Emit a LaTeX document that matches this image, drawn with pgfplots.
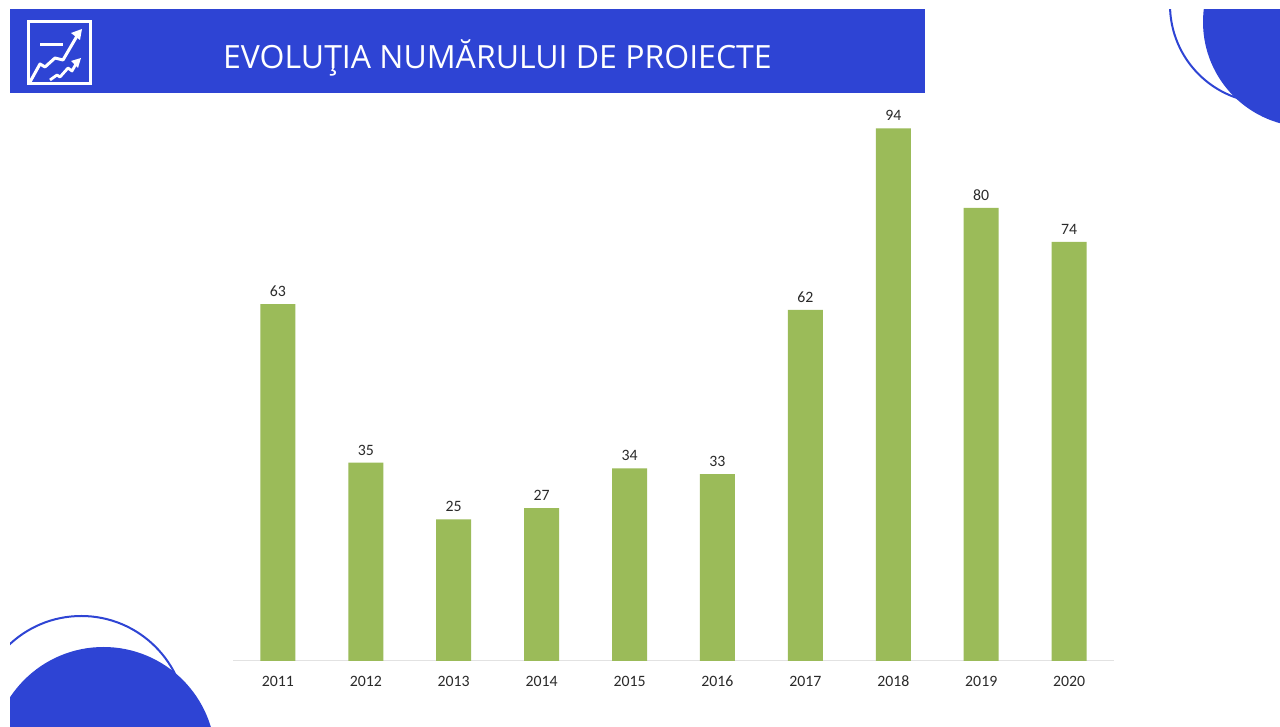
\documentclass[border=0pt]{standalone}
\usepackage{pgfplots}
\usepackage{fontspec}
\setmainfont{Carlito}
\newfontfamily\titlefont{Open Sans}
\pgfplotsset{compat=1.18}
\definecolor{bannerblue}{HTML}{2E44D4}
\definecolor{bargreen}{HTML}{9BBB59}
\definecolor{axisgray}{HTML}{E2E2E2}
\definecolor{labeltext}{HTML}{2A2A2A}
\begin{document}
\begin{tikzpicture}[x=1pt,y=1pt]
\path[use as bounding box,fill=white] (0,0) rectangle (1280,727);
\begin{scope}[shift={(0,727)},y=-1pt]
% decoration, pixel coordinates
\begin{scope}
\clip (10,9.5) rectangle (1280,727);
\draw[bannerblue,line width=2pt] (1268,5) circle (98);
\fill[bannerblue] (1308,22) circle (105);
\draw[bannerblue,line width=2pt] (81.3,720.8) circle (104.8);
\fill[bannerblue] (103.5,759) circle (112);
\end{scope}
\fill[bannerblue] (10,9) rectangle (925,93);
\node[anchor=base west,inner sep=0pt,text=white,font=\titlefont\fontsize{32}{34}\selectfont] at (223,69) {EVOLUŢIA NUMĂRULUI DE PROIECTE};
% icon
\draw[white,line width=2.6pt] (28.5,21.5) rectangle (90.5,83.5);
\draw[white,line width=2.4pt] (40,44.5) -- (63,44.5);
\draw[white,line width=3pt,line join=round] (30,82) -- (40,64) -- (45,67) -- (55,58) -- (63,60) -- (77,36);
\fill[white] (82,29) -- (71,33) -- (80,40) -- cycle;
\draw[white,line width=2.8pt,line join=round] (50,80) -- (57,75) -- (60,77) -- (68,68) -- (72,71) -- (76,64);
\fill[white] (81,58) -- (71,61) -- (78,68) -- cycle;
\end{scope}
\begin{axis}[
  at={(233pt,66pt)},anchor=south west,
  scale only axis,width=881pt,height=566.5pt,
  xmin=-0.51,xmax=9.51,ymin=0,ymax=100,
  axis y line=none,
  axis x line*=bottom,
  x axis line style={axisgray,line width=1pt,-},
  ybar,bar width=35pt,
  /pgf/number format/assume math mode=true,
  /pgf/number format/1000 sep={},
  nodes near coords,
  every node near coord/.append style={font=\fontsize{15.8}{18}\selectfont,text=labeltext,inner sep=0pt,yshift=7.5pt,anchor=base},
  clip=false,
  xtick=data,
  xticklabels={2011,2012,2013,2014,2015,2016,2017,2018,2019,2020},
  major tick length=0pt,
  xticklabel style={font=\fontsize{15.8}{18}\selectfont,text=labeltext,inner sep=0pt,anchor=base,yshift=-26pt},
  ytick=\empty,
]
\addplot[fill=bargreen,draw=none] coordinates {
(0,63) (1,35) (2,25) (3,27) (4,34) (5,33) (6,62) (7,94) (8,80) (9,74)};
\end{axis}
\end{tikzpicture}
\end{document}
